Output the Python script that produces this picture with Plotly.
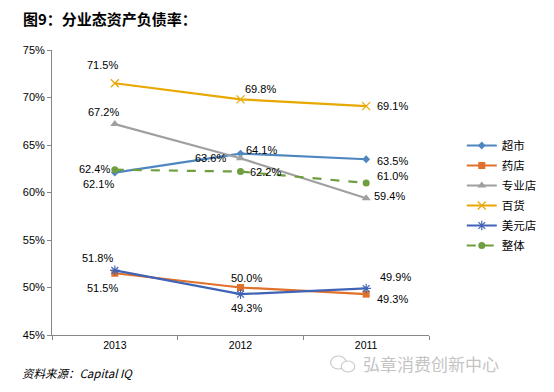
import plotly.graph_objects as go

# ---- data ----
years = ["2013", "2012", "2011"]
chaoshi = [62.1, 64.1, 63.5]      # 超市
yaodian = [51.5, 50.0, 49.3]      # 药店
zhuanye = [67.2, 63.6, 59.4]      # 专业店
baihuo = [71.5, 69.8, 69.1]       # 百货
meiyuan = [51.8, 49.3, 49.9]      # 美元店
zhengti = [62.4, 62.2, 61.0]      # 整体
y_ticks = [45, 50, 55, 60, 65, 70, 75]

title_text = "图9：分业态资产负债率："
source_text = "资料来源：Capital IQ"
watermark_text = "弘章消费创新中心"

# ---- layout geometry (page has an 8px body margin) ----
W, H = 546, 384
ML, MR, MT, MB = 44, 111, 42, 57

def px(xp):  # page x -> paper coords
    return (xp - 8 - ML) / (W - ML - MR)

def py(yp):  # page y -> paper coords
    return (H - MB - (yp - 8)) / (H - MT - MB)

# ---- styles ----
series = [
    ("超市", chaoshi, dict(color="#4F86C0", symbol="diamond", size=6), "solid",
     [(-16, -11), (21, 4), (26, -2)]),
    ("药店", yaodian, dict(color="#E0702A", symbol="square", size=7), "solid",
     [(-12, -15), (6, 10), (26, -5)]),
    ("专业店", zhuanye, dict(color="#A0A0A0", symbol="triangle-up", size=8), "solid",
     [(-11, 12), (-30, 0), (23, 2)]),
    ("百货", baihuo, dict(color="#E8A800", symbol="x-thin-open", size=8,
                         line=dict(width=1.2, color="#E8A800")), "solid",
     [(-12, 18), (20, 10), (26, 0)]),
    ("美元店", meiyuan, dict(color="#4063B5", symbol="asterisk-open", size=8,
                           line=dict(width=1.2, color="#4063B5")), "solid",
     [(-17, 12), (6, -14), (29, 11)]),
    ("整体", zhengti, dict(color="#6E9E3E", symbol="circle", size=7), "dash",
     [(-20, 1), (25, 0), (26, 7)]),
]

fig = go.Figure()
annotations = []
for name, vals, marker, dash, offs in series:
    fig.add_trace(go.Scatter(
        x=years, y=vals, name=name, mode="lines+markers", legendgroup=name,
        line=dict(color=marker["color"], width=2.2, dash=dash),
        marker=marker,
    ))
    for i, (yv, (dx, dy)) in enumerate(zip(vals, offs)):
        annotations.append(dict(
            x=i, y=yv, xref="x", yref="y", text=f"{yv:.1f}%",
            showarrow=False, xshift=dx, yshift=dy,
            font=dict(family="Liberation Sans, Arial", size=11, color="#000000"),
        ))

annotations.append(dict(
    x=px(20), y=py(18), xref="paper", yref="paper",
    xanchor="left", yanchor="middle", showarrow=False,
    text=f"<b>{title_text}</b>",
    font=dict(family="Noto Sans CJK SC", size=15, color="#000000"),
))
annotations.append(dict(
    x=px(19), y=py(373), xref="paper", yref="paper",
    xanchor="left", yanchor="middle", showarrow=False,
    text=f"<i>{source_text}</i>",
    font=dict(family="Noto Sans CJK SC", size=11.5, color="#000000"),
))
annotations.append(dict(
    x=px(372), y=py(363), xref="paper", yref="paper",
    xanchor="left", yanchor="middle", showarrow=False,
    text=watermark_text,
    font=dict(family="Noto Sans CJK SC", size=17, color="#C4C4C4"),
))

shapes = [
    dict(type="circle", xref="paper", yref="paper",
         x0=px(341), x1=px(357), y0=py(369), y1=py(356),
         line=dict(color="#C8C8C8", width=1.2)),
    dict(type="circle", xref="paper", yref="paper",
         x0=px(352), x1=px(366), y0=py(372), y1=py(361),
         line=dict(color="#C8C8C8", width=1.2), fillcolor="white"),
]

fig.update_layout(
    width=W, height=H,
    margin=dict(l=ML, r=MR, t=MT, b=MB),
    paper_bgcolor="white", plot_bgcolor="white",
    showlegend=True,
    legend=dict(
        x=px(477), y=py(131), xanchor="left", yanchor="top",
        font=dict(family="Noto Sans CJK SC", size=11.5, color="#000000"),
        tracegroupgap=1, itemwidth=30,
        bgcolor="rgba(0,0,0,0)",
    ),
    xaxis=dict(
        type="category", range=[-0.5, 2.5],
        showline=True, linecolor="#868686", linewidth=1,
        ticks="outside", ticklen=4, tickcolor="#868686", tickson="boundaries",
        showgrid=False, zeroline=False,
        tickfont=dict(family="Liberation Sans, Arial", size=10.5, color="#000000"),
    ),
    yaxis=dict(
        range=[45, 75], tickvals=y_ticks, ticktext=[f"{v}%" for v in y_ticks],
        showline=True, linecolor="#868686", linewidth=1,
        ticks="outside", ticklen=4, tickcolor="#868686",
        showgrid=False, zeroline=False,
        tickfont=dict(family="Liberation Sans, Arial", size=11, color="#000000"),
    ),
    annotations=annotations,
    shapes=shapes,
)

fig.write_html("out.html")
